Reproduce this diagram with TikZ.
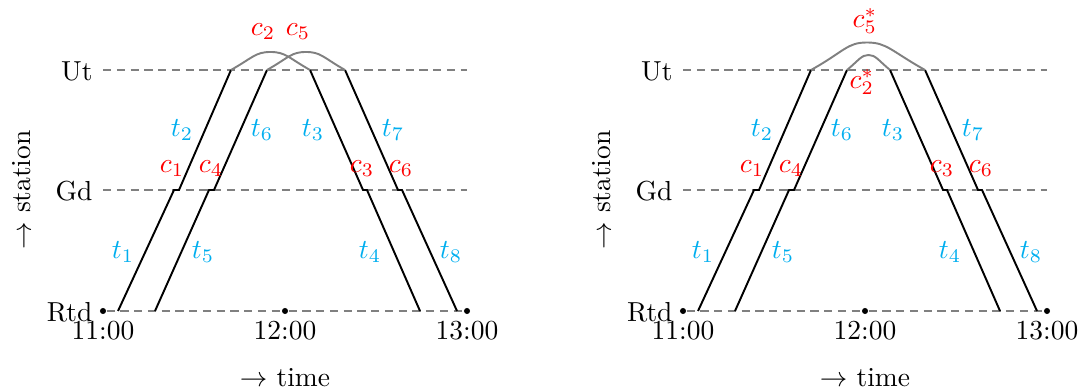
\documentclass[tikz,border=0pt]{standalone}
\definecolor{tcyan}{RGB}{0,174,239}
\definecolor{lgray}{RGB}{128,128,128}
\tikzset{
  stat/.style={lgray, line width=0.5pt, dash pattern=on 3pt off 2pt},
  train/.style={black, line width=0.7pt},
  conn/.style={lgray, line width=0.7pt},
  tlab/.style={text=tcyan, inner sep=0pt},
  clab/.style={text=red, inner sep=0pt},
  dot/.style={circle, fill=black, inner sep=0pt, minimum size=2.2pt},
  txt/.style={inner sep=0pt},
}
\newcommand\drawbase{%
  % stations
  \coordinate (u0) at (103,70); \coordinate (u1) at (467,70);
  \coordinate (g0) at (103,190); \coordinate (g1) at (467,190);
  \node[dot] (d11) at (103,311) {};
  \node[dot] (d12) at (285,311) {};
  \node[dot] (d13) at (467,311) {};
  \draw[stat] (u0) -- (u1);
  \draw[stat] (g0) -- (g1);
  \draw[stat] (d11) -- (d12) -- (d13);
  \node[txt, anchor=east] (ut) at (93,71) {Ut};
  \node[txt, anchor=east] (gd) at (93,191) {Gd};
  \node[txt, anchor=east] (rtd) at (93,312) {Rtd};
  \node[txt] (h11) at (103,331) {11:00};
  \node[txt] (h12) at (285,331) {12:00};
  \node[txt] (h13) at (467,331) {13:00};
  \node[txt] (time) at (285,378) {$\rightarrow$ time};
  \node[txt, rotate=90] (station) at (22,190) {$\rightarrow$ station};
  % train path points
  \coordinate (a1) at (118,311); \coordinate (b1) at (174,190); \coordinate (b2) at (179,190); \coordinate (e2) at (231,70);
  \coordinate (a5) at (155,311); \coordinate (b5) at (209,190); \coordinate (b6) at (214,190); \coordinate (e6) at (267,70);
  \coordinate (s3) at (310,70); \coordinate (b3) at (363,190); \coordinate (b4) at (367,190); \coordinate (e4) at (420,311);
  \coordinate (s7) at (345,70); \coordinate (b7) at (398,190); \coordinate (b8) at (402,190); \coordinate (e8) at (457,311);
  \draw[train] (a1) -- (b1) -- (b2) -- (e2);
  \draw[train] (a5) -- (b5) -- (b6) -- (e6);
  \draw[train] (s3) -- (b3) -- (b4) -- (e4);
  \draw[train] (s7) -- (b7) -- (b8) -- (e8);
  % train labels
  \node[tlab] (lt1) at (123,252) {$t_1$};
  \node[tlab] (lt5) at (203,252) {$t_5$};
  \node[tlab] (lt2) at (182,130) {$t_2$};
  \node[tlab] (lt6) at (262,130) {$t_6$};
  \node[tlab] (lt3) at (313,130) {$t_3$};
  \node[tlab] (lt7) at (393,130) {$t_7$};
  \node[tlab] (lt4) at (370,252) {$t_4$};
  \node[tlab] (lt8) at (451,252) {$t_8$};
  % Gd connection labels
  \node[clab] (lc1) at (172,169) {$c_1$};
  \node[clab] (lc4) at (211,169) {$c_4$};
  \node[clab] (lc3) at (362,169) {$c_3$};
  \node[clab] (lc6) at (401,169) {$c_6$};
}
\begin{document}
\begin{tikzpicture}[x=0.3636pt, y=-0.3636pt]
\useasboundingbox (0,0) rectangle (1081,390);
\begin{scope}[name prefix=L-]
  \drawbase
  \coordinate (p2) at (270.5,52);
  \coordinate (p5) at (306,52);
  \draw[conn] (e2) .. controls +(22,-12.5) and +(-15,0) .. (p2) .. controls +(15,0) and +(-22,-12.5) .. (s3);
  \draw[conn] (e6) .. controls +(22,-12.5) and +(-15,0) .. (p5) .. controls +(15,0) and +(-22,-12.5) .. (s7);
  \node[clab] (lc2) at (263,32) {$c_2$};
  \node[clab] (lc5) at (298,32) {$c_5$};
\end{scope}
\begin{scope}[shift={(580,0)}, name prefix=R-]
  \drawbase
  \coordinate (q5) at (287,42.5);
  \coordinate (q2) at (288.5,55);
  \draw[conn] (e2) .. controls +(34,-19) and +(-20,0) .. (q5) .. controls +(20,0) and +(-34,-19) .. (s7);
  \draw[conn] (e6) .. controls +(12,-10) and +(-7,0) .. (q2) .. controls +(7,0) and +(-12,-10) .. (s3);
  \node[clab] (lc5s) at (285,21) {$c_5^*$};
  \node[clab] (lc2s) at (282,82) {$c_2^*$};
\end{scope}
\end{tikzpicture}
\end{document}
